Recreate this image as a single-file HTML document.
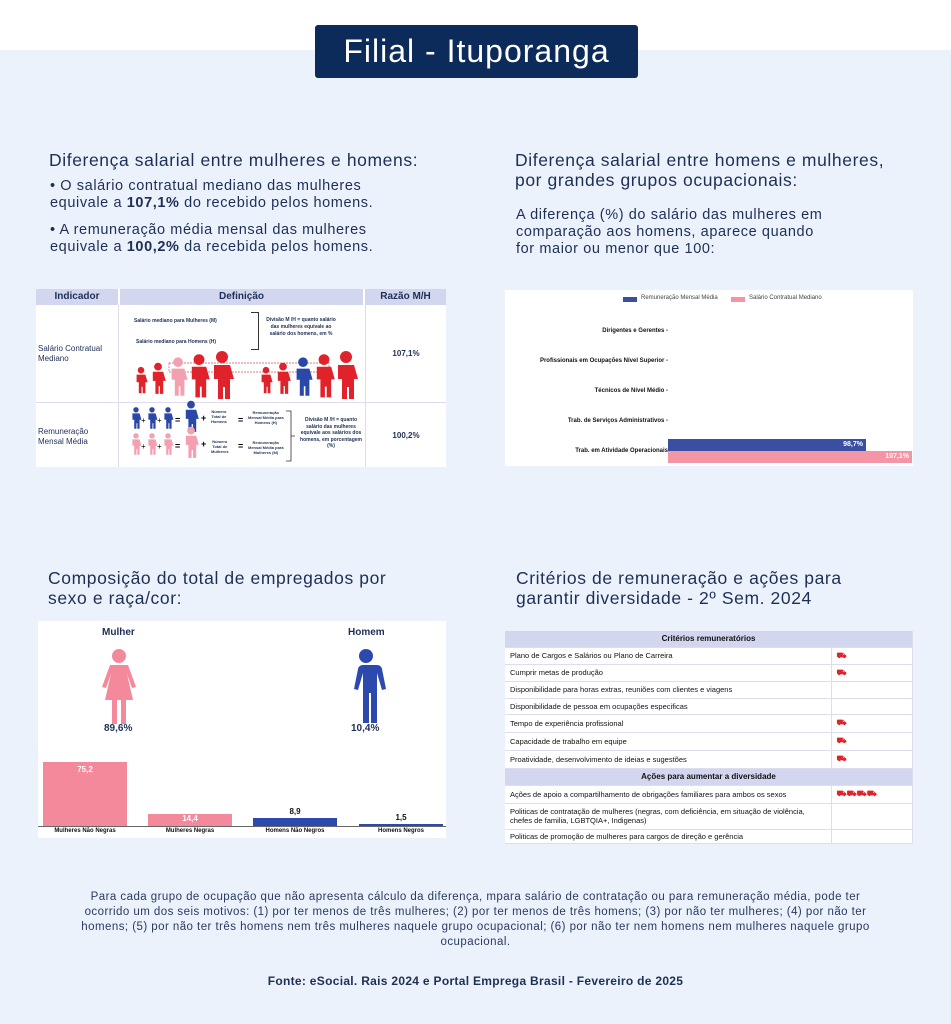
<!DOCTYPE html>
<html><head><meta charset="utf-8"><style>
*{margin:0;padding:0;box-sizing:border-box}
body{width:951px;height:1024px;background:#ebf2fc;font-family:"Liberation Sans",sans-serif;color:#1e2f55;position:relative;overflow:hidden}
.a{position:absolute}
.top{left:0;top:0;width:951px;height:50px;background:#fff}
.title{left:315px;top:25px;width:323px;height:53px;background:#0c2a5a;border-radius:3px;color:#fff;font-size:32px;letter-spacing:1px;text-align:center;line-height:53px}
.h{font-size:17.5px;line-height:20px;color:#1e2f55;letter-spacing:0.6px;white-space:nowrap}
.p{font-size:14.5px;line-height:17px;letter-spacing:0.6px;white-space:nowrap}
table{border-collapse:collapse;font-size:7.5px;color:#111}
.tb td{border-bottom:1px solid #dde;border-right:1px solid #dde;padding:0 5px}
.hd{background:#d2d6ef;font-weight:bold;text-align:center;font-size:10px}
.ic{color:#e0222a;font-weight:bold;font-size:8px}
</style></head><body>
<div class="a top"></div>
<div class="a title">Filial - Ituporanga</div>

<div class="a h" style="left:49px;top:150px">Diferença salarial entre mulheres e homens:</div>
<div class="a p" style="left:50px;top:178px">• O salário contratual mediano das mulheres<br>equivale a <b>107,1%</b> do recebido pelos homens.</div>
<div class="a p" style="left:50px;top:222px">• A remuneração média mensal das mulheres<br>equivale a <b>100,2%</b> da recebida pelos homens.</div>

<div class="a h" style="left:515px;top:150px">Diferença salarial entre homens e mulheres,<br>por grandes grupos ocupacionais:</div>
<div class="a p" style="left:516px;top:207px">A diferença (%) do salário das mulheres em<br>comparação aos homens, aparece quando<br>for maior ou menor que 100:</div>

<!-- left table -->
<div class="a" style="left:36px;top:289px;width:410px;height:178px;background:#fff">
<div class="a hd" style="left:0;top:0;width:410px;height:16px;line-height:16px"></div>
<div class="a" style="left:0;top:0;width:82px;height:16px;line-height:16px;font-weight:bold;font-size:10px;text-align:center">Indicador</div>
<div class="a" style="left:82px;top:0;width:247px;height:16px;line-height:16px;font-weight:bold;font-size:10px;text-align:center;background:#d2d6ef;border-left:2px solid #fff;border-right:2px solid #fff">Definição</div>
<div class="a" style="left:329px;top:0;width:81px;height:16px;line-height:16px;font-weight:bold;font-size:10px;text-align:center">Razão M/H</div>
<div class="a" style="left:82px;top:16px;width:1px;height:162px;background:#dde"></div>
<div class="a" style="left:329px;top:16px;width:1px;height:162px;background:#dde"></div>
<div class="a" style="left:0;top:113px;width:410px;height:1px;background:#dde"></div>
<div class="a" style="left:2px;top:55px;font-size:8px;line-height:10px">Salário Contratual<br>Mediano</div>
<div class="a" style="left:2px;top:138px;font-size:8px;line-height:10px">Remuneração<br>Mensal Média</div>
<div class="a" style="left:330px;top:60px;width:80px;text-align:center;font-size:8px;font-weight:bold">107,1%</div>
<div class="a" style="left:330px;top:142px;width:80px;text-align:center;font-size:8px;font-weight:bold">100,2%</div>
<div class="a" style="left:98px;top:29px;font-size:5px;font-weight:bold">Salário mediano para Mulheres (M)</div>
<div class="a" style="left:100px;top:50px;font-size:5px;font-weight:bold">Salário mediano para Homens (H)</div>
<div class="a" style="left:215px;top:23px;width:8px;height:38px;border:1px solid #333;border-left:none"></div>
<div class="a" style="left:230px;top:28px;width:70px;text-align:center;font-size:5px;font-weight:bold;line-height:7px">Divisão M /H = quanto salário das mulheres equivale ao salário dos homens, em %</div>
<svg class="a" style="left:82px;top:62px" width="247" height="116" viewBox="0 0 247 116">
<defs><g id="p"><circle cx="0" cy="-8" r="3"/><path d="M-4,-4h8l2,7h-2v10h-2.5v-6h-1v6h-2.5v-10h-2z"/></g></defs>
<rect x="51" y="12" width="160" height="9" fill="none" stroke="#c55" stroke-dasharray="2,1" stroke-width="0.7"/>
<use href="#p" fill="#e0222a" transform="translate(23,28) scale(1.1)"/>
<use href="#p" fill="#e0222a" transform="translate(40,26) scale(1.3)"/>
<use href="#p" fill="#f4a0b0" transform="translate(60,24) scale(1.6)"/>
<use href="#p" fill="#e0222a" transform="translate(81,23) scale(1.8)"/>
<use href="#p" fill="#e0222a" transform="translate(104,22) scale(2)"/>
<use href="#p" fill="#e0222a" transform="translate(148,28) scale(1.1)"/>
<use href="#p" fill="#e0222a" transform="translate(165,26) scale(1.3)"/>
<use href="#p" fill="#2a48a8" transform="translate(185,24) scale(1.6)"/>
<use href="#p" fill="#e0222a" transform="translate(206,23) scale(1.8)"/>
<use href="#p" fill="#e0222a" transform="translate(228,22) scale(2)"/>
<g transform="translate(0,72)">
<use href="#p" fill="#2a48a8" transform="translate(18,-6) scale(0.9)"/><text x="23" y="0" font-size="8">+</text>
<use href="#p" fill="#2a48a8" transform="translate(34,-6) scale(0.9)"/><text x="39" y="0" font-size="8">+</text>
<use href="#p" fill="#2a48a8" transform="translate(50,-6) scale(0.9)"/><text x="57" y="0" font-size="9" font-weight="bold">=</text>
<use href="#p" fill="#2a48a8" transform="translate(73,-8) scale(1.3)"/><text x="83" y="-2" font-size="9" font-weight="bold">+</text>
<use href="#p" fill="#f4a0b0" transform="translate(18,20) scale(0.9)"/><text x="23" y="26" font-size="8">+</text>
<use href="#p" fill="#f4a0b0" transform="translate(34,20) scale(0.9)"/><text x="39" y="26" font-size="8">+</text>
<use href="#p" fill="#f4a0b0" transform="translate(50,20) scale(0.9)"/><text x="57" y="26" font-size="9" font-weight="bold">=</text>
<use href="#p" fill="#f4a0b0" transform="translate(73,18) scale(1.3)"/><text x="83" y="24" font-size="9" font-weight="bold">+</text>
<text x="120" y="0" font-size="9" font-weight="bold">=</text><text x="120" y="26" font-size="9" font-weight="bold">=</text>
<path d="M168,-12h5v50h-5M173,13h4" fill="none" stroke="#333" stroke-width="0.8"/>
</g>
</svg>
<div class="a" style="left:175px;top:120px;font-size:4px;line-height:5px;font-weight:bold;text-align:center">Número<br>Total de<br>Homens</div>
<div class="a" style="left:175px;top:150px;font-size:4px;line-height:5px;font-weight:bold;text-align:center">Número<br>Total de<br>Mulheres</div>
<div class="a" style="left:212px;top:121px;font-size:4px;line-height:5px;font-weight:bold;text-align:center">Remuneração<br>Mensal Média para<br>Homens (H)</div>
<div class="a" style="left:212px;top:151px;font-size:4px;line-height:5px;font-weight:bold;text-align:center">Remuneração<br>Mensal Média para<br>Mulheres (M)</div>
<div class="a" style="left:262px;top:128px;width:66px;text-align:center;font-size:5px;line-height:6.5px;font-weight:bold">Divisão M /H = quanto salário das mulheres equivale aos salários dos<br>homens, em porcentagem (%)</div>
</div>

<!-- right chart -->
<div class="a" style="left:505px;top:290px;width:408px;height:176px;background:#fff;font-size:6px;font-weight:bold;color:#111">
<div class="a" style="left:118px;top:7px;width:14px;height:5px;background:#3a4fa2"></div>
<div class="a" style="left:136px;top:5px;font-weight:normal;font-size:6px;color:#444">Remuneração Mensal Média</div>
<div class="a" style="left:226px;top:7px;width:14px;height:5px;background:#f495a6"></div>
<div class="a" style="left:244px;top:5px;font-weight:normal;font-size:6px;color:#444">Salário Contratual Mediano</div>
<div class="a" style="right:245px;top:38px;white-space:nowrap">Dirigentes e Gerentes -</div>
<div class="a" style="right:245px;top:68px;white-space:nowrap">Profissionais em Ocupações Nível Superior -</div>
<div class="a" style="right:245px;top:98px;white-space:nowrap">Técnicos de Nível Médio -</div>
<div class="a" style="right:245px;top:128px;white-space:nowrap">Trab. de Serviços Administrativos -</div>
<div class="a" style="right:245px;top:158px;white-space:nowrap">Trab. em Atividade Operacionais</div>
<div class="a" style="left:163px;top:149px;width:198px;height:12px;background:#3a4fa2;color:#fff;text-align:right;padding-right:3px;line-height:12px;font-size:7px">98,7%</div>
<div class="a" style="left:163px;top:161px;width:244px;height:12px;background:#f495a6;color:#fff;text-align:right;padding-right:3px;line-height:12px;font-size:7px">107,1%</div>
</div>

<div class="a h" style="left:48px;top:568px">Composição do total de empregados por<br>sexo e raça/cor:</div>
<div class="a h" style="left:516px;top:568px">Critérios de remuneração e ações para<br>garantir diversidade - 2º Sem. 2024</div>

<!-- composition -->
<div class="a" style="left:38px;top:621px;width:408px;height:217px;background:#fff;color:#1e2f55">
<div class="a" style="left:64px;top:6px;font-size:10px;font-weight:bold">Mulher</div>
<div class="a" style="left:310px;top:6px;font-size:10px;font-weight:bold">Homem</div>
<svg class="a" style="left:58px;top:28px" width="46" height="76" viewBox="0 0 46 76"><circle cx="23" cy="7" r="7" fill="#f4899c"/><path d="M14,16h18l8,22l-4,1l-5,-14l6,26h-7v24h-5v-24h-4v24h-5v-24h-7l6,-26l-5,14l-4,-1z" fill="#f4899c"/></svg>
<svg class="a" style="left:305px;top:28px" width="46" height="76" viewBox="0 0 46 76"><circle cx="23" cy="7" r="7" fill="#2c49ad"/><path d="M12,16h22q4,0 5,4l4,20l-4,1l-5,-17v50h-6v-30h-2v30h-6v-50l-5,17l-4,-1l4,-20q1,-4 5,-4z" fill="#2c49ad"/></svg>
<div class="a" style="left:66px;top:102px;font-size:10px;font-weight:bold">89,6%</div>
<div class="a" style="left:313px;top:102px;font-size:10px;font-weight:bold">10,4%</div>
<div class="a" style="left:5px;top:141px;width:84px;height:64px;background:#f4899c;color:#fff;font-weight:bold;font-size:8px;text-align:center;padding-top:3px">75,2</div>
<div class="a" style="left:110px;top:193px;width:84px;height:12px;background:#f4899c;color:#fff;font-weight:bold;font-size:8px;text-align:center">14,4</div>
<div class="a" style="left:215px;top:197px;width:84px;height:8px;background:#2c49ad"></div>
<div class="a" style="left:215px;top:186px;width:84px;text-align:center;font-size:8px;font-weight:bold;color:#111">8,9</div>
<div class="a" style="left:321px;top:203px;width:84px;height:2px;background:#2c49ad"></div>
<div class="a" style="left:321px;top:192px;width:84px;text-align:center;font-size:8px;font-weight:bold;color:#111">1,5</div>
<div class="a" style="left:0;top:205px;width:408px;height:1px;background:#666"></div>
<div class="a" style="left:5px;top:207px;width:84px;text-align:center;font-size:6px;font-weight:bold;color:#111">Mulheres Não Negras</div>
<div class="a" style="left:110px;top:207px;width:84px;text-align:center;font-size:6px;font-weight:bold;color:#111">Mulheres Negras</div>
<div class="a" style="left:215px;top:207px;width:84px;text-align:center;font-size:6px;font-weight:bold;color:#111">Homens Não Negros</div>
<div class="a" style="left:321px;top:207px;width:84px;text-align:center;font-size:6px;font-weight:bold;color:#111">Homens Negros</div>
</div>

<!-- criteria table -->
<table class="a tb" style="left:505px;top:631px;width:408px;background:#fff">
<tr><td colspan="2" class="hd" style="height:16px;font-size:8px">Critérios remuneratórios</td></tr>
<tr style="height:17px"><td style="width:326px">Plano de Cargos e Salários ou Plano de Carreira</td><td class="ic">⛟</td></tr>
<tr style="height:17px"><td>Cumprir metas de produção</td><td class="ic">⛟</td></tr>
<tr style="height:17px"><td>Disponibilidade para horas extras, reuniões com clientes e viagens</td><td></td></tr>
<tr style="height:16px"><td>Disponibilidade de pessoa em ocupações especificas</td><td></td></tr>
<tr style="height:18px"><td>Tempo de experiência profissional</td><td class="ic">⛟</td></tr>
<tr style="height:18px"><td>Capacidade de trabalho em equipe</td><td class="ic">⛟</td></tr>
<tr style="height:18px"><td>Proatividade, desenvolvimento de ideias e sugestões</td><td class="ic">⛟</td></tr>
<tr><td colspan="2" class="hd" style="height:17px;font-size:8px">Ações para aumentar a diversidade</td></tr>
<tr style="height:18px"><td>Ações de apoio a compartilhamento de obrigações familiares para ambos os sexos</td><td class="ic">⛟⛟⛟⛟</td></tr>
<tr style="height:26px"><td>Politicas de contratação de mulheres (negras, com deficiência, em situação de violência, chefes de familia, LGBTQIA+, Indigenas)</td><td></td></tr>
<tr style="height:14px"><td>Politicas de promoção de mulheres para cargos de direção e gerência</td><td></td></tr>
</table>

<div class="a" style="left:72px;top:890px;width:807px;text-align:center;font-size:11.5px;line-height:15px;letter-spacing:0.45px;color:#2a3a60">Para cada grupo de ocupação que não apresenta cálculo da diferença, mpara salário de contratação ou para remuneração média, pode ter ocorrido um dos seis motivos: (1) por ter menos de três mulheres; (2) por ter menos de três homens; (3) por não ter mulheres; (4) por não ter homens; (5) por não ter três homens nem três mulheres naquele grupo ocupacional; (6) por não ter nem homens nem mulheres naquele grupo ocupacional.</div>
<div class="a" style="left:0;top:974px;width:951px;text-align:center;font-size:12px;font-weight:bold;letter-spacing:0.3px;color:#1e2f55">Fonte: eSocial. Rais 2024 e Portal Emprega Brasil - Fevereiro de 2025</div>
</body></html>
